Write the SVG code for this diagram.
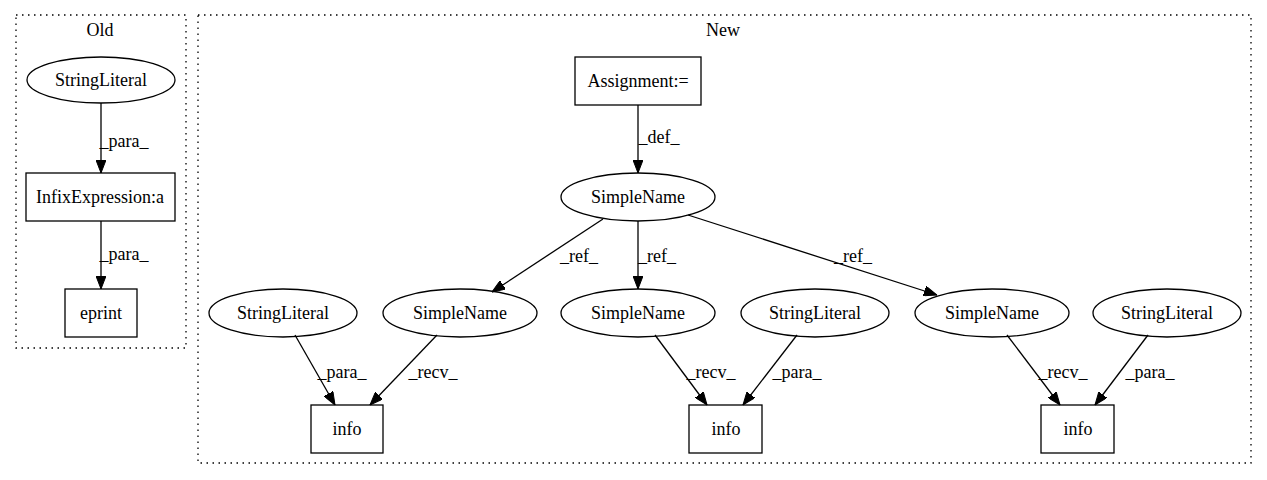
<svg xmlns="http://www.w3.org/2000/svg" width="1267" height="480" viewBox="0 0 1267 480">
<style>
text{font-family:"Liberation Serif","Times New Roman",serif;font-size:18px;fill:#000;text-anchor:middle}
.n{fill:none;stroke:#000;stroke-width:1.3}
.c{fill:none;stroke:#000;stroke-width:1.3;stroke-dasharray:1.5,4.5}
.e{fill:none;stroke:#000;stroke-width:1.3;marker-end:url(#ah)}
</style>
<defs>
<marker id="ah" viewBox="0 0 13 10" refX="13" refY="5" markerWidth="13" markerHeight="10" markerUnits="userSpaceOnUse" orient="auto">
<path d="M0,0 L13,5 L0,10 z" fill="#000" stroke="#000"/>
</marker>
</defs>
<rect width="1267" height="480" fill="#fff"/>
<g id="cluster_old">
<rect class="c" x="16" y="15" width="170" height="333"/>
<text x="100" y="36">Old</text>
</g>
<g id="cluster_new">
<rect class="c" x="198" y="15" width="1053" height="448"/>
<text x="723" y="36">New</text>
</g>
<g id="old_stringliteral"><ellipse class="n" cx="101" cy="80" rx="74" ry="23"/><text x="101" y="86">StringLiteral</text></g>
<g id="old_infix"><rect class="n" x="26" y="173" width="149" height="48"/><text x="100" y="203">InfixExpression:a</text></g>
<g id="old_eprint"><rect class="n" x="65" y="289" width="72" height="48"/><text x="101" y="319">eprint</text></g>
<g id="assignment"><rect class="n" x="575" y="57" width="126" height="48"/><text x="638" y="87">Assignment:=</text></g>
<g id="simplename_top"><ellipse class="n" cx="638" cy="197" rx="77" ry="24"/><text x="638" y="203">SimpleName</text></g>
<g id="stringliteral_1"><ellipse class="n" cx="283" cy="313" rx="74" ry="24"/><text x="283" y="319">StringLiteral</text></g>
<g id="simplename_1"><ellipse class="n" cx="460" cy="313" rx="77" ry="24"/><text x="460" y="319">SimpleName</text></g>
<g id="simplename_2"><ellipse class="n" cx="638" cy="313" rx="77" ry="24"/><text x="638" y="319">SimpleName</text></g>
<g id="stringliteral_2"><ellipse class="n" cx="815" cy="313" rx="74" ry="24"/><text x="815" y="319">StringLiteral</text></g>
<g id="simplename_3"><ellipse class="n" cx="992" cy="313" rx="77" ry="24"/><text x="992" y="319">SimpleName</text></g>
<g id="stringliteral_3"><ellipse class="n" cx="1167" cy="313" rx="74" ry="24"/><text x="1167" y="319">StringLiteral</text></g>
<g id="info_1"><rect class="n" x="311" y="405" width="72" height="48"/><text x="347" y="435">info</text></g>
<g id="info_2"><rect class="n" x="689" y="405" width="73" height="48"/><text x="726" y="435">info</text></g>
<g id="info_3"><rect class="n" x="1041" y="405" width="73" height="48"/><text x="1078" y="435">info</text></g>
<g id="connectors">
<path class="e" d="M101,103 L101,173"/>
<text x="124" y="147">_para_</text>
<path class="e" d="M101,221 L101,289"/>
<text x="124" y="260">_para_</text>
<path class="e" d="M638,105 L638,173"/>
<text x="659" y="143">_def_</text>
<path class="e" d="M603,219 L492,292"/>
<text x="579" y="262">_ref_</text>
<path class="e" d="M638,221 L638,289"/>
<text x="657" y="262">_ref_</text>
<path class="e" d="M688,215 L937,295"/>
<text x="853" y="262">_ref_</text>
<path class="e" d="M295,335 L335,405"/>
<text x="342" y="378">_para_</text>
<path class="e" d="M437,335 L370,405"/>
<text x="433" y="378">_recv_</text>
<path class="e" d="M655,335 L707,405"/>
<text x="711" y="378">_recv_</text>
<path class="e" d="M797,335 L743,405"/>
<text x="797" y="378">_para_</text>
<path class="e" d="M1007,335 L1060,405"/>
<text x="1063" y="378">_recv_</text>
<path class="e" d="M1148,335 L1095,405"/>
<text x="1150" y="378">_para_</text>
</g>
</svg>
